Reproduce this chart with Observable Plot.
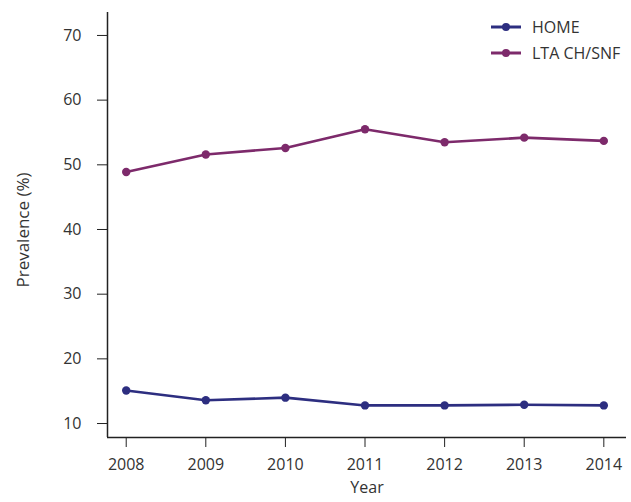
<!DOCTYPE html>
<html>
<head>
<meta charset="utf-8">
<script src="https://cdn.jsdelivr.net/npm/d3@7"></script>
<script src="https://cdn.jsdelivr.net/npm/@observablehq/plot@0.6"></script>
<style>
  html, body { margin: 0; padding: 0; background: #fff; }
  #chart { position: relative; width: 631px; height: 502px; font-family: "Open Sans", sans-serif; }
  #legend { position: absolute; left: 491px; top: 14px; font-size: 16px; color: #333; }
  #legend .row { display: flex; align-items: center; height: 26px; }
  #legend svg { margin-right: 11px; }
</style>
</head>
<body>
<div id="chart"><div id="legend"></div></div>
<script>
// Years on the x axis
const years = [2008, 2009, 2010, 2011, 2012, 2013, 2014];
// Prevalence (%) by care setting
const home = [15.1, 13.6, 14.0, 12.8, 12.8, 12.9, 12.8];
const ltaChSnf = [48.9, 51.6, 52.6, 55.5, 53.5, 54.2, 53.7];
// Series names and colours
const seriesNames = ["HOME", "LTA CH/SNF"];
const seriesColors = ["#2d2e80", "#7d2a6b"];
const yTicks = [10, 20, 30, 40, 50, 60, 70];

const data = [
  ...years.map((year, i) => ({year, value: home[i], series: seriesNames[0]})),
  ...years.map((year, i) => ({year, value: ltaChSnf[i], series: seriesNames[1]}))
];

const xDomain = [2007.765, 2014.285];
const yDomain = [7.84, 73.55];

const chart = Plot.plot({
  width: 631,
  height: 502,
  marginLeft: 107,
  marginRight: 5,
  marginTop: 12,
  marginBottom: 65,
  style: {fontFamily: "'Open Sans', sans-serif", fontSize: "16px", color: "#333", background: "#fff"},
  x: {domain: xDomain, ticks: years, tickFormat: d => String(d), tickSize: 10, tickPadding: 11, label: null},
  y: {domain: yDomain, ticks: yTicks, tickSize: 10, tickPadding: 16, label: null},
  color: {domain: seriesNames, range: seriesColors},
  marks: [
    Plot.ruleY([yDomain[0]], {stroke: "#222", strokeWidth: 1.5}),
    Plot.ruleX([xDomain[0]], {stroke: "#222", strokeWidth: 1.5}),
    Plot.line(data, {x: "year", y: "value", z: "series", stroke: "series", strokeWidth: 2.6}),
    Plot.dot(data, {x: "year", y: "value", fill: "series", r: 4.2}),
    Plot.axisX({ticks: years, tickFormat: d => String(d), tickSize: 10, tickPadding: 11, stroke: "#222", label: null}),
    Plot.axisY({ticks: yTicks, tickSize: 10, tickPadding: 16, stroke: "#222", label: null}),
    Plot.text(["Year"], {frameAnchor: "bottom", dy: 55, fontSize: 16, fill: "#333"}),
    Plot.text(["Prevalence (%)"], {frameAnchor: "left", textAnchor: "middle", dx: -84, dy: 5, rotate: -90, fontSize: 17, fill: "#333"})
  ]
});

const container = document.getElementById("chart");
container.insertBefore(chart, container.firstChild);

// Legend: line-and-dot swatches with series names
const legend = d3.select("#legend");
seriesNames.forEach((name, i) => {
  const row = legend.append("div").attr("class", "row");
  const sw = row.append("svg").attr("width", 30).attr("height", 10);
  sw.append("line").attr("x1", 0).attr("x2", 30).attr("y1", 5).attr("y2", 5)
    .attr("stroke", seriesColors[i]).attr("stroke-width", 3);
  sw.append("circle").attr("cx", 15).attr("cy", 5).attr("r", 4).attr("fill", seriesColors[i]);
  row.append("span").text(name);
});
</script>
</body>
</html>
